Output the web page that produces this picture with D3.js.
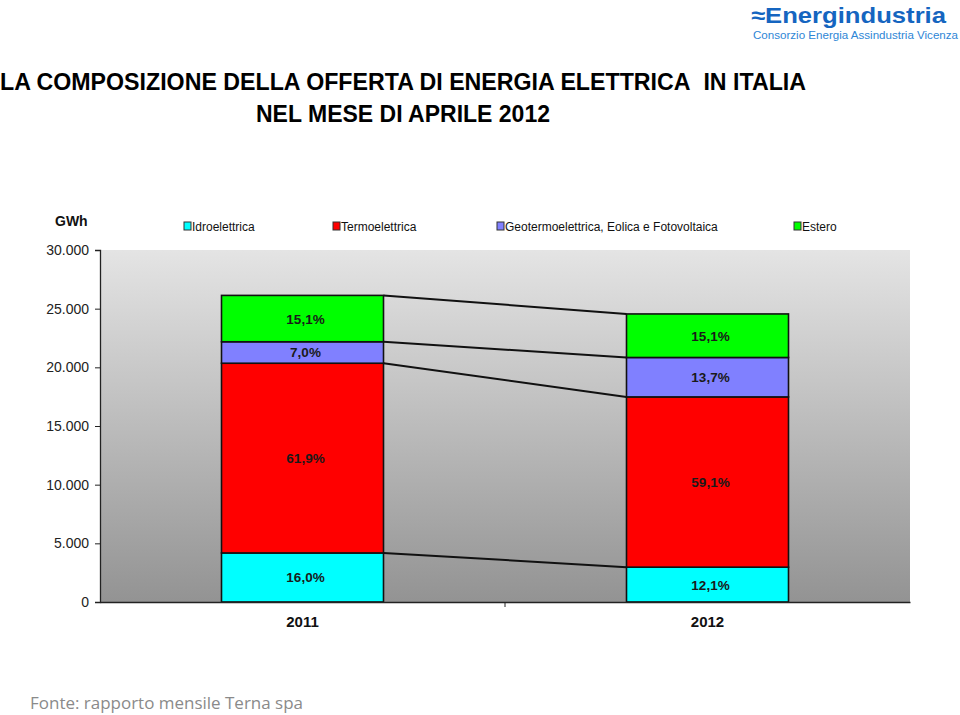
<!DOCTYPE html>
<html><head><meta charset="utf-8">
<script src="https://cdn.jsdelivr.net/npm/d3@7"></script>
<style>body{margin:0;background:#fff}svg{display:block}</style>
</head><body>
<svg id="c" width="960" height="715"></svg>
<script>
const categories = ["2011", "2012"];
const seriesNames = ["Idroelettrica", "Termoelettrica", "Geotermoelettrica, Eolica e Fotovoltaica", "Estero"];
const idro = [4180, 2970];
const termo = [16170, 14510];
const geo = [1830, 3360];
const estero = [3950, 3710];
const yTicks = [0, 5000, 10000, 15000, 20000, 25000, 30000];
const colors = ["#00ffff", "#ff0000", "#8080ff", "#00ff00"];

const svg = d3.select("#c");
const it = d3.formatLocale({decimal: ",", thousands: ".", grouping: [3], currency: ["€", ""]});
const fmtTick = it.format(",");
const fmtPct = it.format(".1f");

const rows = categories.map((c, i) => ({cat: c, s0: idro[i], s1: termo[i], s2: geo[i], s3: estero[i]}));
const keys = ["s0", "s1", "s2", "s3"];
const stack = d3.stack().keys(keys)(rows);
const totals = rows.map(r => keys.reduce((a, k) => a + r[k], 0));

const L = 100, R = 910, T = 250, B = 602;
const x = d3.scaleBand().domain(categories).range([L, R]).padding(0);
const y = d3.scaleLinear().domain([0, 30000]).range([B, T]);
const bw = x.bandwidth() * 0.4;
const bx = c => x(c) + (x.bandwidth() - bw) / 2;

// plot background gradient
const defs = svg.append("defs");
const g = defs.append("linearGradient").attr("id", "bg").attr("x1", 0).attr("y1", 0).attr("x2", 0).attr("y2", 1);
g.append("stop").attr("offset", "0%").attr("stop-color", "#e4e4e4");
g.append("stop").attr("offset", "100%").attr("stop-color", "#939393");
svg.append("rect").attr("x", L).attr("y", T).attr("width", R - L).attr("height", B - T).attr("fill", "url(#bg)");

// connector lines
stack.forEach(layer => {
  svg.append("line")
    .attr("x1", bx(categories[0]) + bw).attr("y1", y(layer[0][1]))
    .attr("x2", bx(categories[1])).attr("y2", y(layer[1][1]))
    .attr("stroke", "#111").attr("stroke-width", 2);
});

// bars
stack.forEach((layer, si) => {
  svg.append("g").selectAll("rect").data(layer).join("rect")
    .attr("x", d => bx(d.data.cat))
    .attr("y", d => y(d[1]))
    .attr("width", bw)
    .attr("height", d => y(d[0]) - y(d[1]))
    .attr("fill", colors[si])
    .attr("stroke", "#111").attr("stroke-width", 1.6);
});

// value labels
stack.forEach((layer, si) => {
  svg.append("g").selectAll("text").data(layer).join("text")
    .attr("x", (d, i) => bx(d.data.cat) + bw / 2 + 3)
    .attr("y", d => (y(d[0]) + y(d[1])) / 2 + 5)
    .attr("text-anchor", "middle")
    .attr("font-family", "Liberation Sans, Arial, sans-serif")
    .attr("font-weight", "bold").attr("font-size", 13.5).attr("fill", "#1a1a1a")
    .text((d, i) => fmtPct((d[1] - d[0]) / totals[i] * 100) + "%");
});

// axes
const yAxis = d3.axisLeft(y).tickValues(yTicks).tickFormat(fmtTick).tickSize(5).tickPadding(6);
const ya = svg.append("g").attr("transform", `translate(${L},0)`).call(yAxis);
ya.select(".domain").attr("stroke", "#222").attr("stroke-width", 1.3);
ya.selectAll(".tick line").attr("stroke", "#222");
ya.selectAll("text").attr("font-family", "Liberation Sans, Arial, sans-serif").attr("font-size", 14).attr("fill", "#222");

const xAxis = d3.axisBottom(x).tickSize(0).tickPadding(14);
const xa = svg.append("g").attr("transform", `translate(0,${B})`).call(xAxis);
xa.select(".domain").attr("stroke", "#222").attr("stroke-width", 1.3);
xa.selectAll("text").attr("font-family", "Liberation Sans, Arial, sans-serif").attr("font-size", 15).attr("font-weight", "bold").attr("fill", "#111");
// middle tick between categories
svg.append("line").attr("x1", x(categories[1])).attr("x2", x(categories[1])).attr("y1", B).attr("y2", B + 5).attr("stroke", "#222");

// GWh label
svg.append("text").attr("x", 55).attr("y", 226).attr("font-family", "Liberation Sans, Arial, sans-serif")
  .attr("font-weight", "bold").attr("font-size", 14).attr("fill", "#111").text("GWh");

// legend
const legX = [184, 333, 497, 794];
seriesNames.forEach((n, i) => {
  svg.append("rect").attr("x", legX[i]).attr("y", 222).attr("width", 7).attr("height", 8)
    .attr("fill", colors[i]).attr("stroke", "#333").attr("stroke-width", 1);
  svg.append("text").attr("x", legX[i] + 8).attr("y", 230.5)
    .attr("font-family", "Liberation Sans Narrow, Arial Narrow, Liberation Sans, sans-serif")
    .attr("font-size", 12).attr("fill", "#111").text(n);
});

// titles
svg.append("text").attr("x", 0).attr("y", 90).attr("textLength", 806).attr("lengthAdjust", "spacingAndGlyphs")
  .attr("font-family", "Liberation Sans Narrow, Arial Narrow, Liberation Sans, sans-serif")
  .attr("font-weight", "bold").attr("font-size", 24).attr("fill", "#000")
  .text("LA COMPOSIZIONE DELLA OFFERTA DI ENERGIA ELETTRICA\u00a0 IN ITALIA");
svg.append("text").attr("x", 256).attr("y", 122).attr("textLength", 294).attr("lengthAdjust", "spacingAndGlyphs")
  .attr("font-family", "Liberation Sans Narrow, Arial Narrow, Liberation Sans, sans-serif")
  .attr("font-weight", "bold").attr("font-size", 24).attr("fill", "#000")
  .text("NEL MESE DI APRILE 2012");

// logo
svg.append("text").attr("x", 751).attr("y", 23).attr("textLength", 195).attr("lengthAdjust", "spacingAndGlyphs")
  .attr("font-family", "Liberation Sans, Arial, sans-serif").attr("font-weight", "bold")
  .attr("font-size", 22).attr("fill", "#1565c0").text("≈Energindustria");
svg.append("text").attr("x", 753).attr("y", 39).attr("textLength", 205).attr("lengthAdjust", "spacingAndGlyphs")
  .attr("font-family", "Liberation Sans, Arial, sans-serif")
  .attr("font-size", 10.5).attr("fill", "#2e86d6").text("Consorzio Energia Assindustria Vicenza");

// source
svg.append("text").attr("x", 30).attr("y", 709).attr("textLength", 273).attr("lengthAdjust", "spacingAndGlyphs")
  .attr("font-family", "Open Sans, Liberation Sans, sans-serif")
  .attr("font-size", 16).attr("fill", "#8a8a8a").text("Fonte: rapporto mensile Terna spa");
</script>
</body></html>
